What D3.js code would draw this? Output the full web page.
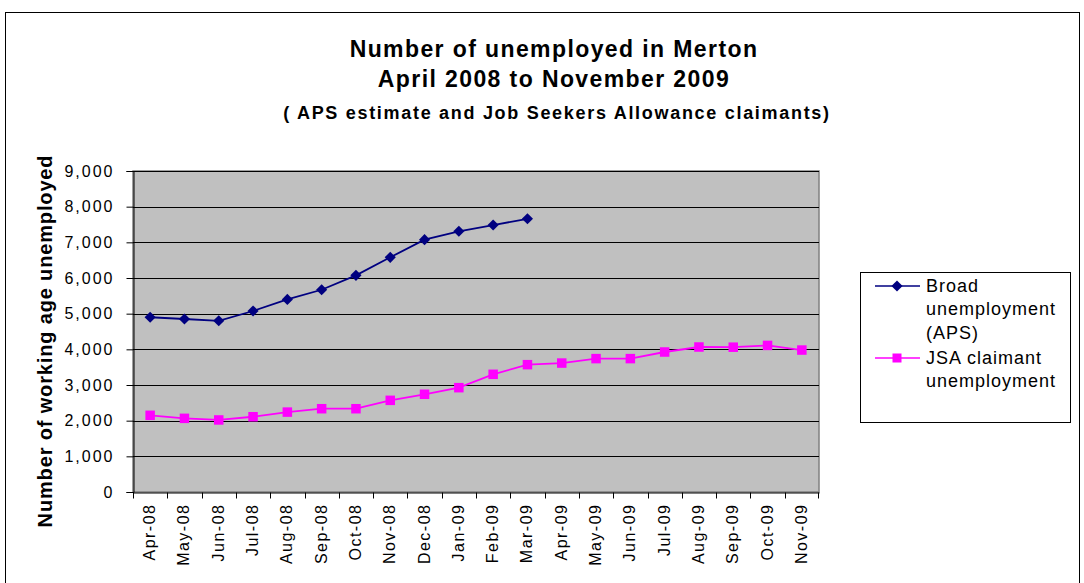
<!DOCTYPE html>
<html>
<head>
<meta charset="utf-8">
<script src="https://cdn.jsdelivr.net/npm/d3@7"></script>
<style>
  body { margin: 0; background: #fff; }
  text { font-family: Arial, "Liberation Sans", sans-serif; fill: #000; }
</style>
</head>
<body>
<div id="chart"></div>
<script>
// data
const months = ['Apr-08', 'May-08', 'Jun-08', 'Jul-08', 'Aug-08', 'Sep-08', 'Oct-08', 'Nov-08',
  'Dec-08', 'Jan-09', 'Feb-09', 'Mar-09', 'Apr-09', 'May-09', 'Jun-09', 'Jul-09', 'Aug-09',
  'Sep-09', 'Oct-09', 'Nov-09'];
const broadUnemployment = [4900, 4850, 4800, 5075, 5400, 5670, 6075, 6580, 7075, 7310, 7485, 7660];
const jsaClaimants = [2150, 2065, 2020, 2110, 2240, 2335, 2335, 2570, 2740, 2925, 3300, 3570,
  3615, 3740, 3740, 3925, 4065, 4060, 4110, 3980];
const yTicks = [0, 1000, 2000, 3000, 4000, 5000, 6000, 7000, 8000, 9000];
const titleLines = ['Number of unemployed in Merton', 'April 2008 to November 2009'];
const subtitle = '( APS estimate and Job Seekers Allowance claimants)';
const yTitle = 'Number of working age unemployed';

const width = 1084;
const height = 583;
const plot = { left: 133, right: 819, top: 171, bottom: 492 };
const colors = { broad: '#000080', jsa: '#ff00ff', plotBg: '#c0c0c0', border: '#808080' };

const svg = d3.select('#chart').append('svg')
  .attr('width', width)
  .attr('height', height);

// outer chart border
svg.append('rect')
  .attr('x', 5.5).attr('y', 12.5)
  .attr('width', 1074).attr('height', 600)
  .attr('fill', '#fff').attr('stroke', '#000').attr('stroke-width', 1);

const x = d3.scaleBand().domain(months).range([plot.left, plot.right]).padding(0);
const y = d3.scaleLinear().domain([0, 9000]).range([plot.bottom, plot.top]);
const cx = (m) => x(m) + x.bandwidth() / 2;

// plot area
svg.append('rect')
  .attr('x', plot.left).attr('y', plot.top)
  .attr('width', plot.right - plot.left).attr('height', plot.bottom - plot.top)
  .attr('fill', colors.plotBg).attr('stroke', colors.border).attr('stroke-width', 1.5);

// gridlines
svg.append('g')
  .selectAll('line')
  .data(yTicks.filter((d) => d > 0))
  .join('line')
  .attr('x1', plot.left).attr('x2', plot.right)
  .attr('y1', (d) => Math.round(y(d)) + 0.5).attr('y2', (d) => Math.round(y(d)) + 0.5)
  .attr('stroke', '#000').attr('stroke-width', 1);

// y axis
const yAxis = svg.append('g')
  .attr('transform', `translate(${plot.left + 0.5},0)`)
  .call(d3.axisLeft(y).tickValues(yTicks).tickSize(7).tickPadding(12)
    .tickFormat(d3.format(',')));
yAxis.select('.domain').attr('stroke', '#000');
yAxis.selectAll('.tick line').attr('stroke', '#000');
yAxis.selectAll('text')
  .attr('font-size', 16).attr('letter-spacing', 2).attr('fill', '#000')
  .attr('font-family', 'Arial, "Liberation Sans", sans-serif');

// x axis
const xAxis = svg.append('g')
  .attr('transform', `translate(0,${plot.bottom + 0.5})`)
  .call(d3.axisBottom(x).tickSize(0).tickPadding(0));
xAxis.select('.domain').attr('stroke', '#000');
xAxis.selectAll('.tick text')
  .attr('font-size', 16).attr('letter-spacing', 1.5).attr('fill', '#000')
  .attr('font-family', 'Arial, "Liberation Sans", sans-serif')
  .attr('text-anchor', 'end')
  .attr('dy', null)
  .attr('transform', 'translate(5,11) rotate(-90)');
// boundary ticks
xAxis.append('g')
  .selectAll('line')
  .data(months.concat(['end']))
  .join('line')
  .attr('x1', (d, i) => (i < months.length ? Math.round(x(d)) + 0.5 : plot.right - 0.5))
  .attr('x2', (d, i) => (i < months.length ? Math.round(x(d)) + 0.5 : plot.right - 0.5))
  .attr('y1', 0).attr('y2', 6)
  .attr('stroke', '#000');

// lines
const line = d3.line()
  .x((d, i) => cx(months[i]))
  .y((d) => y(d));

svg.append('path')
  .datum(jsaClaimants)
  .attr('fill', 'none').attr('stroke', colors.jsa).attr('stroke-width', 1.8)
  .attr('d', line);
svg.append('path')
  .datum(broadUnemployment)
  .attr('fill', 'none').attr('stroke', colors.broad).attr('stroke-width', 1.8)
  .attr('d', line);

const diamond = d3.symbol().type(d3.symbolSquare).size(62)();
svg.append('g')
  .selectAll('rect')
  .data(jsaClaimants)
  .join('rect')
  .attr('x', (d, i) => cx(months[i]) - 4.75).attr('y', (d) => y(d) - 4.75)
  .attr('width', 9.5).attr('height', 9.5)
  .attr('fill', colors.jsa);
svg.append('g')
  .selectAll('path')
  .data(broadUnemployment)
  .join('path')
  .attr('d', diamond)
  .attr('transform', (d, i) => `translate(${cx(months[i])},${y(d)}) rotate(45)`)
  .attr('fill', colors.broad);

// titles
svg.append('g')
  .selectAll('text')
  .data(titleLines)
  .join('text')
  .attr('x', 554).attr('y', (d, i) => 57 + i * 30)
  .attr('text-anchor', 'middle')
  .attr('font-size', 23).attr('font-weight', 'bold').attr('letter-spacing', 1.4)
  .text((d) => d);
svg.append('text')
  .attr('x', 557).attr('y', 119)
  .attr('text-anchor', 'middle')
  .attr('font-size', 18).attr('font-weight', 'bold').attr('letter-spacing', 1.7)
  .text(subtitle);

svg.append('text')
  .attr('transform', 'translate(52,341) rotate(-90)')
  .attr('text-anchor', 'middle')
  .attr('font-size', 20).attr('font-weight', 'bold').attr('letter-spacing', 0.85)
  .text(yTitle);

// legend
const legend = svg.append('g');
legend.append('rect')
  .attr('x', 860.5).attr('y', 272.5).attr('width', 210).attr('height', 150)
  .attr('fill', '#fff').attr('stroke', '#000');
const legendItems = [
  { lines: ['Broad', 'unemployment', '(APS)'], color: colors.broad, y: 286, marker: 'diamond' },
  { lines: ['JSA claimant', 'unemployment'], color: colors.jsa, y: 358, marker: 'square' },
];
legendItems.forEach((item) => {
  legend.append('line')
    .attr('x1', 875).attr('x2', 920).attr('y1', item.y).attr('y2', item.y)
    .attr('stroke', item.color).attr('stroke-width', 1.5);
  if (item.marker === 'diamond') {
    legend.append('path').attr('d', diamond)
      .attr('transform', `translate(897,${item.y}) rotate(45)`)
      .attr('fill', item.color);
  } else {
    legend.append('rect').attr('x', 892.5).attr('y', item.y - 4.5)
      .attr('width', 9).attr('height', 9).attr('fill', item.color);
  }
  item.lines.forEach((t, i) => {
    legend.append('text')
      .attr('x', 926).attr('y', item.y + 6 + i * 23.3)
      .attr('font-size', 18).attr('letter-spacing', 1)
      .text(t);
  });
});
</script>
</body>
</html>
